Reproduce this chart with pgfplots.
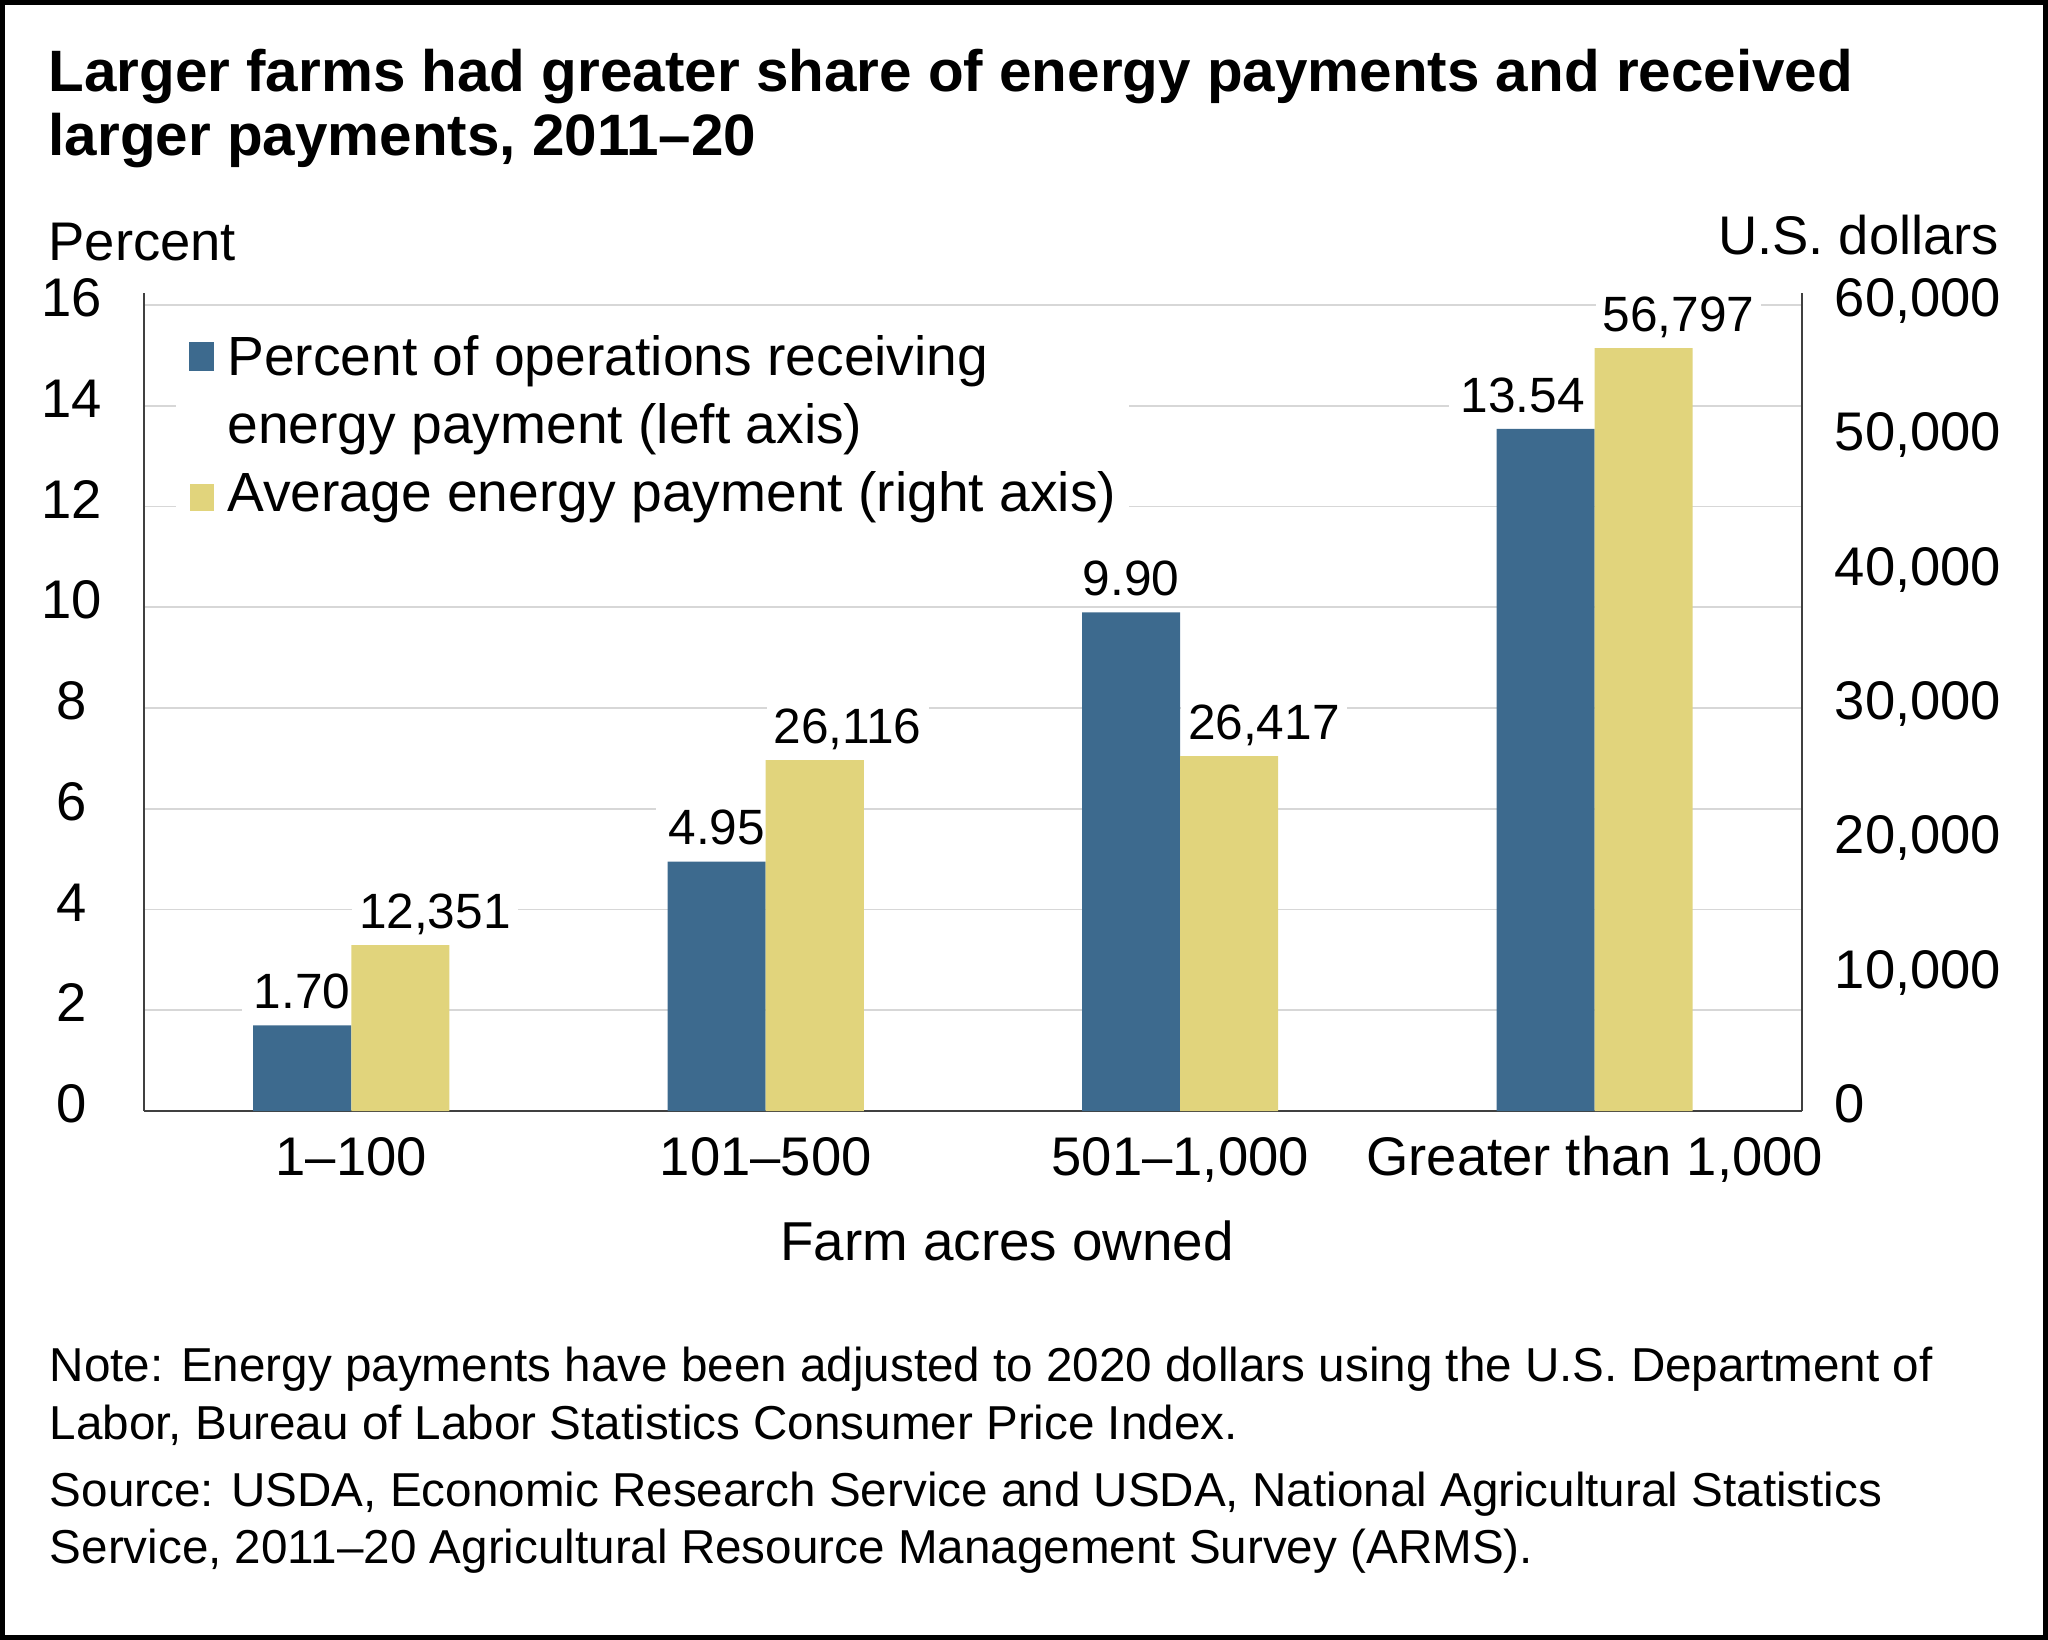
\documentclass[border=0pt]{standalone}
\usepackage{fontspec}
\setmainfont{Liberation Sans}
\usepackage{pgfplots}
\pgfplotsset{compat=1.18}
\definecolor{cblue}{RGB}{61,106,142}
\definecolor{cyellow}{RGB}{225,212,124}
\definecolor{cgrid}{RGB}{215,215,215}
\definecolor{caxis}{RGB}{64,64,64}
\newcommand{\fs}[1]{\fontsize{#1}{#1}\selectfont}

\begin{document}
\begin{tikzpicture}
\useasboundingbox (0,0) rectangle (512pt,-410pt);
\draw[line width=1.25pt] (0.625pt,-0.625pt) rectangle (511.375pt,-409.375pt);

% titles
\node[anchor=base west, inner sep=0pt, font=\fs{14.6}\bfseries] at (11.95pt,-22.9pt) {Larger farms had greater share of energy payments and received};
\node[anchor=base west, inner sep=0pt, font=\fs{14.6}\bfseries] at (11.95pt,-38.75pt) {larger payments, 2011–20};
\node[anchor=base west, inner sep=0pt, font=\fs{13.6}] at (11.95pt,-65pt) {Percent};
\node[anchor=base east, inner sep=0pt, font=\fs{13.6}] at (500pt,-63.5pt) {U.S. dollars};

% left axis: percent
\begin{axis}[
  at={(36pt,-277.75pt)}, anchor=south west,
  scale only axis, width=414.5pt, height=201.5pt,
  xmin=-0.5, xmax=3.5, ymin=0, ymax=16,
  axis x line*=bottom, axis y line*=left,
  axis line style={draw=caxis, line width=0.6pt},
  y axis line style={shorten >=-3pt},
  xtick={0,1,2,3},
  xticklabels={1–100, 101–500, {501–1,000}, {Greater than 1,000}},
  ytick={0,2,4,6,8,10,12,14,16},
  major tick length=0pt,
  ymajorgrids, grid style={draw=cgrid, line width=0.4pt},
  tick label style={font=\fs{13.6}},
  yticklabel style={anchor=base, xshift=-18pt, yshift=-2.9pt},
  xticklabel style={anchor=base, yshift=-16pt},
  /pgf/number format/assume math mode=true,
  clip=false,
  ybar, bar width=24.5pt,
]
\addplot[fill=cblue, draw=none, bar shift=-12.25pt,
  nodes near coords={\pgfmathprintnumber[fixed,fixed zerofill,precision=2]{\pgfplotspointmeta}},
  every node near coord/.append style={anchor=base, yshift=4.2pt, font=\fs{12.4}, fill=white, inner xsep=3pt, inner ysep=1.5pt, text=black},
  coordinate style/.condition={x==3}{xshift=-5.75pt}]
  coordinates {(0,1.70) (1,4.95) (2,9.90) (3,13.54)};
\end{axis}

% right axis: dollars
\begin{axis}[
  at={(36pt,-277.75pt)}, anchor=south west,
  scale only axis, width=414.5pt, height=201.5pt,
  xmin=-0.5, xmax=3.5, ymin=0, ymax=60000,
  axis x line=none, axis y line*=right,
  axis line style={draw=caxis, line width=0.6pt},
  y axis line style={shorten >=-3pt},
  xtick=\empty,
  ytick={0,10000,20000,30000,40000,50000,60000},
  scaled y ticks=false,
  major tick length=0pt,
  tick label style={font=\fs{13.6}},
  yticklabel style={anchor=base west, inner sep=0pt, xshift=8pt, yshift=-2.9pt},
  /pgf/number format/assume math mode=true,
  /pgf/number format/fixed,
  /pgf/number format/1000 sep={,},
  clip=false,
  ybar, bar width=24.5pt,
  legend cell align=left,
  legend style={at={(0,1)}, anchor=north west, xshift=7.75pt, yshift=-4.5pt,
    draw=none, fill=white, inner xsep=3.25pt, inner ysep=3pt,
    row sep=3.4pt, column sep=3.25pt,
    nodes={inner sep=0pt, text height=10pt, text depth=3.5pt, anchor=base west, font=\fs{13.8}},
    cells={anchor=base west}},
]
\addlegendimage{legend image code/.code={\fill[cblue] (0pt,1.5pt) rectangle (6pt,8.25pt);}}
\addlegendimage{legend image code/.code={}}
\addplot[fill=cyellow, draw=none, bar shift=12.25pt,
  legend image code/.code={\fill[cyellow] (0pt,0pt) rectangle (6pt,6.75pt);},
  nodes near coords={\pgfmathprintnumber[fixed,precision=0,1000 sep={,}]{\pgfplotspointmeta}},
  every node near coord/.append style={anchor=base west, xshift=-12.25pt, yshift=4.2pt, font=\fs{12.4}, fill=white, inner xsep=1.75pt, inner ysep=1.5pt, text=black}]
  coordinates {(0,12351) (1,26116) (2,26417) (3,56797)};
\legend{Percent of operations receiving, energy payment (left axis), Average energy payment (right axis)}
\end{axis}

\node[anchor=base, inner sep=0pt, font=\fs{13.7}] at (251.75pt,-315pt) {Farm acres owned};

\node[anchor=base west, inner sep=0pt, font=\fs{11.9}] at (12.25pt,-345.25pt) {Note: Energy payments have been adjusted to 2020 dollars using the U.S. Department of};
\node[anchor=base west, inner sep=0pt, font=\fs{11.9}] at (12.25pt,-359.75pt) {Labor, Bureau of Labor Statistics Consumer Price Index.};
\node[anchor=base west, inner sep=0pt, font=\fs{11.9}] at (12.25pt,-376.5pt) {Source: USDA, Economic Research Service and USDA, National Agricultural Statistics};
\node[anchor=base west, inner sep=0pt, font=\fs{11.9}] at (12.25pt,-390.75pt) {Service, 2011–20 Agricultural Resource Management Survey (ARMS).};
\end{tikzpicture}
\end{document}
